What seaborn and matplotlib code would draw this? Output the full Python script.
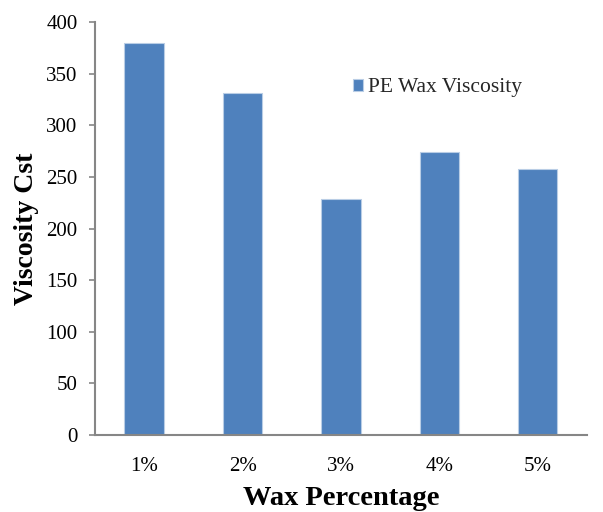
import matplotlib
matplotlib.use("Agg")
import matplotlib.pyplot as plt
import seaborn as sns
import pandas as pd

categories = ["1%", "2%", "3%", "4%", "5%"]
viscosity = [380, 331, 229, 274, 258]
series_name = "PE Wax Viscosity"

sns.set_theme(style="white")
plt.rcParams["font.family"] = ["Liberation Serif", "DejaVu Serif"]

df = pd.DataFrame({"Wax Percentage": categories, "Viscosity": viscosity})

fig = plt.figure(figsize=(6.03, 5.12), dpi=100)
ax = fig.add_axes([0.1575, 0.1504, 0.816, 0.8066])

sns.barplot(data=df, x="Wax Percentage", y="Viscosity", color="#4F81BD",
            saturation=1, width=0.4, edgecolor="#B9CDE5", linewidth=0.8,
            label=series_name, ax=ax)

ax.set_ylim(0, 400)
ax.set_yticks(range(0, 401, 50))
ax.set_xlim(-0.5, 4.5)

for s in ["top", "right"]:
    ax.spines[s].set_visible(False)
for s in ["left", "bottom"]:
    ax.spines[s].set_color("#868686")
    ax.spines[s].set_linewidth(1.5)

ax.tick_params(axis="y", which="major", left=True, length=4.5, width=1.2,
               color="#868686", labelsize=15, pad=8)
ax.tick_params(axis="x", bottom=False, labelsize=15, pad=10)
for lab in ax.get_xticklabels() + ax.get_yticklabels():
    lab.set_color("black")

ax.set_xlabel("Wax Percentage", fontsize=20.5, fontweight="bold", labelpad=7, color="black")
ax.set_ylabel("Viscosity Cst", fontsize=20, fontweight="bold", labelpad=5, color="black")

ax.legend(loc="upper left", bbox_to_anchor=(0.493, 0.9), frameon=False,
          fontsize=15.5, handlelength=0.5, handleheight=0.5, handletextpad=0.2,
          borderpad=0.2)

fig.savefig("out.png", dpi=100)
